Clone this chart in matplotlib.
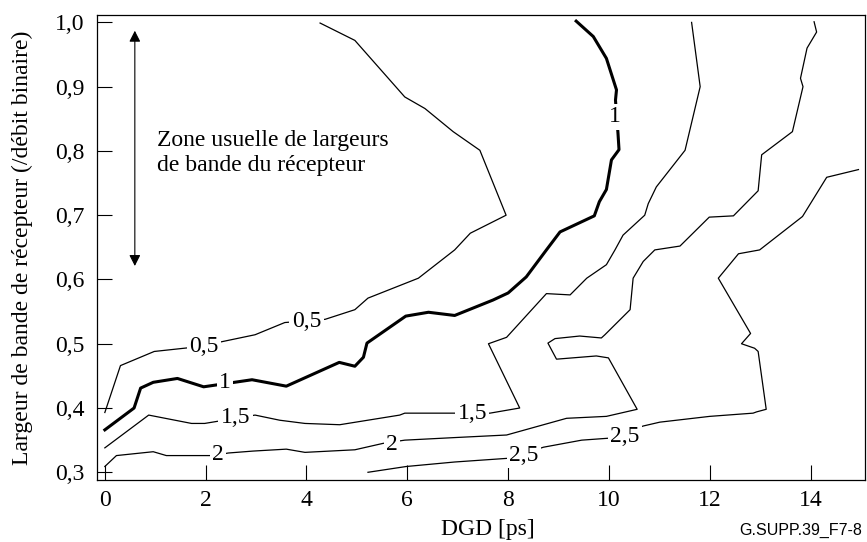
import matplotlib
matplotlib.use('Agg')
import matplotlib.pyplot as plt
import matplotlib.ticker as mticker

plt.rcParams['font.family'] = ['Liberation Serif', 'DejaVu Serif']

# iso-lines (DGD in ps, bandwidth / bit rate)
x05 = [0.0, 0.31, 0.98, 1.69, 2.31, 2.98, 3.57, 4.37, 4.96, 5.22, 6.22, 6.94, 7.25, 7.96,
       7.44, 6.91, 6.35, 5.95, 4.96, 4.27]
y05 = [0.393, 0.466, 0.488, 0.494, 0.503, 0.514, 0.533, 0.538, 0.553, 0.571, 0.602, 0.646,
       0.672, 0.700, 0.801, 0.830, 0.866, 0.884, 0.972, 0.999]

x1 = [0.0, 0.58, 0.71, 0.96, 1.44, 1.96, 2.92, 3.60, 4.65, 4.96, 5.13, 5.20, 5.97, 6.42,
      6.94, 7.70, 8.0, 8.36, 8.76, 9.03, 9.71, 9.81, 9.95, 10.05, 10.20, 10.18, 10.13,
      10.15, 9.95, 9.69, 9.35]
y1 = [0.366, 0.400, 0.431, 0.440, 0.446, 0.433, 0.444, 0.434, 0.471, 0.465, 0.479, 0.501,
      0.543, 0.549, 0.544, 0.568, 0.579, 0.604, 0.646, 0.674, 0.699, 0.721, 0.740, 0.786,
      0.802, 0.827, 0.879, 0.895, 0.944, 0.978, 1.002]

x15 = [0.0, 0.87, 1.72, 1.98, 2.98, 3.47, 3.97, 4.66, 5.85, 5.95, 6.91, 7.64, 8.23, 7.61,
       7.97, 8.76, 9.23, 9.56, 9.95, 10.12, 10.28, 10.71, 10.78, 10.94, 11.51, 11.81, 11.64]
y15 = [0.338, 0.389, 0.376, 0.376, 0.389, 0.381, 0.376, 0.374, 0.389, 0.392, 0.392, 0.392,
       0.400, 0.500, 0.510, 0.578, 0.576, 0.602, 0.623, 0.646, 0.669, 0.700, 0.718, 0.744,
       0.801, 0.900, 1.0]

x2 = [0.0, 0.23, 0.96, 1.22, 2.15, 2.45, 2.94, 3.60, 3.97, 4.96, 5.52, 5.95, 6.94, 7.97,
      9.16, 9.95, 10.56, 9.99, 9.75, 8.96, 8.79, 8.93, 9.42, 9.85, 9.92, 10.42, 10.48,
      10.68, 10.91, 11.41, 11.99, 12.47, 12.96, 13.03, 13.64, 13.85, 13.80, 13.93, 14.12, 14.07]
y2 = [0.309, 0.326, 0.332, 0.326, 0.326, 0.330, 0.333, 0.336, 0.331, 0.335, 0.345, 0.350,
      0.354, 0.358, 0.384, 0.387, 0.398, 0.478, 0.481, 0.476, 0.501, 0.508, 0.512, 0.509,
      0.514, 0.553, 0.602, 0.628, 0.646, 0.652, 0.697, 0.699, 0.738, 0.794, 0.830, 0.900,
      0.913, 0.960, 0.985, 1.001]

x25 = [5.22, 5.98, 6.94, 8.04, 8.70, 9.46, 9.99, 10.68, 11.01, 12.00, 12.86, 12.93, 13.12,
       12.96, 12.89, 12.63, 12.81, 12.17, 12.57, 12.99, 13.84, 14.32, 14.95]
y25 = [0.300, 0.309, 0.316, 0.322, 0.339, 0.350, 0.353, 0.372, 0.378, 0.387, 0.392, 0.394,
       0.398, 0.488, 0.493, 0.500, 0.516, 0.602, 0.640, 0.646, 0.698, 0.759, 0.771]

# in-line labels
lab_text = ['0,5', '0,5', '1', '1', '1,5', '1,5', '2', '2', '2,5', '2,5']
lab_x = [1.97, 4.0, 2.38, 10.11, 2.59, 7.29, 2.25, 5.70, 8.31, 10.32]
lab_y = [0.495, 0.534, 0.439, 0.853, 0.386, 0.391, 0.327, 0.344, 0.326, 0.356]

fig = plt.figure(figsize=(8.67, 5.42), dpi=100)
ax = fig.add_axes([0.1122, 0.1144, 0.8855, 0.8585])

thin = 0.9
ax.plot(x05, y05, color='black', lw=thin)
ax.plot(x1, y1, color='black', lw=2.2)
ax.plot(x15, y15, color='black', lw=thin)
ax.plot(x2, y2, color='black', lw=thin)
ax.plot(x25, y25, color='black', lw=thin)

for t, xx, yy in zip(lab_text, lab_x, lab_y):
    ax.text(xx, yy, t, ha='center', va='center', fontsize=17, zorder=3,
            bbox=dict(boxstyle='square,pad=0.1', fc='white', ec='none'))

# usual receiver bandwidth zone
ax.annotate('', xy=(0.595, 0.987), xytext=(0.595, 0.621),
            arrowprops=dict(arrowstyle='<|-|>,head_length=0.55,head_width=0.28',
                            color='black', lw=0.8, shrinkA=0, shrinkB=0, mutation_scale=12))
ax.text(1.03, 0.797, 'Zone usuelle de largeurs\nde bande du récepteur', ha='left', va='center',
        fontsize=17, linespacing=1.22)

ax.set_xlim(-0.15, 15.08)
ax.set_ylim(0.288, 1.012)
ax.set_xticks(range(0, 15, 2))
ax.set_yticks([0.3, 0.4, 0.5, 0.6, 0.7, 0.8, 0.9, 1.0])
ax.yaxis.set_major_formatter(mticker.FuncFormatter(lambda v, p: f'{v:.1f}'.replace('.', ',')))
ax.tick_params(direction='in', length=11, width=0.8, labelsize=17)
ax.tick_params(axis='y', pad=9)
ax.tick_params(axis='x', pad=7)
for s in ax.spines.values():
    s.set_linewidth(0.9)

ax.set_xlabel('DGD [ps]', fontsize=17)
ax.xaxis.set_label_coords(0.509, -0.084)
ax.xaxis.label.set_va('top')
ax.set_ylabel('Largeur de bande de récepteur (/débit binaire)', fontsize=17)
ax.yaxis.set_label_coords(-0.084, 0.5)

fig.text(0.994, 0.008, 'G.SUPP.39_F7-8', ha='right', va='bottom', fontsize=11.5,
         family='Liberation Sans')

plt.savefig('out.png', dpi=100)
plt.close()
